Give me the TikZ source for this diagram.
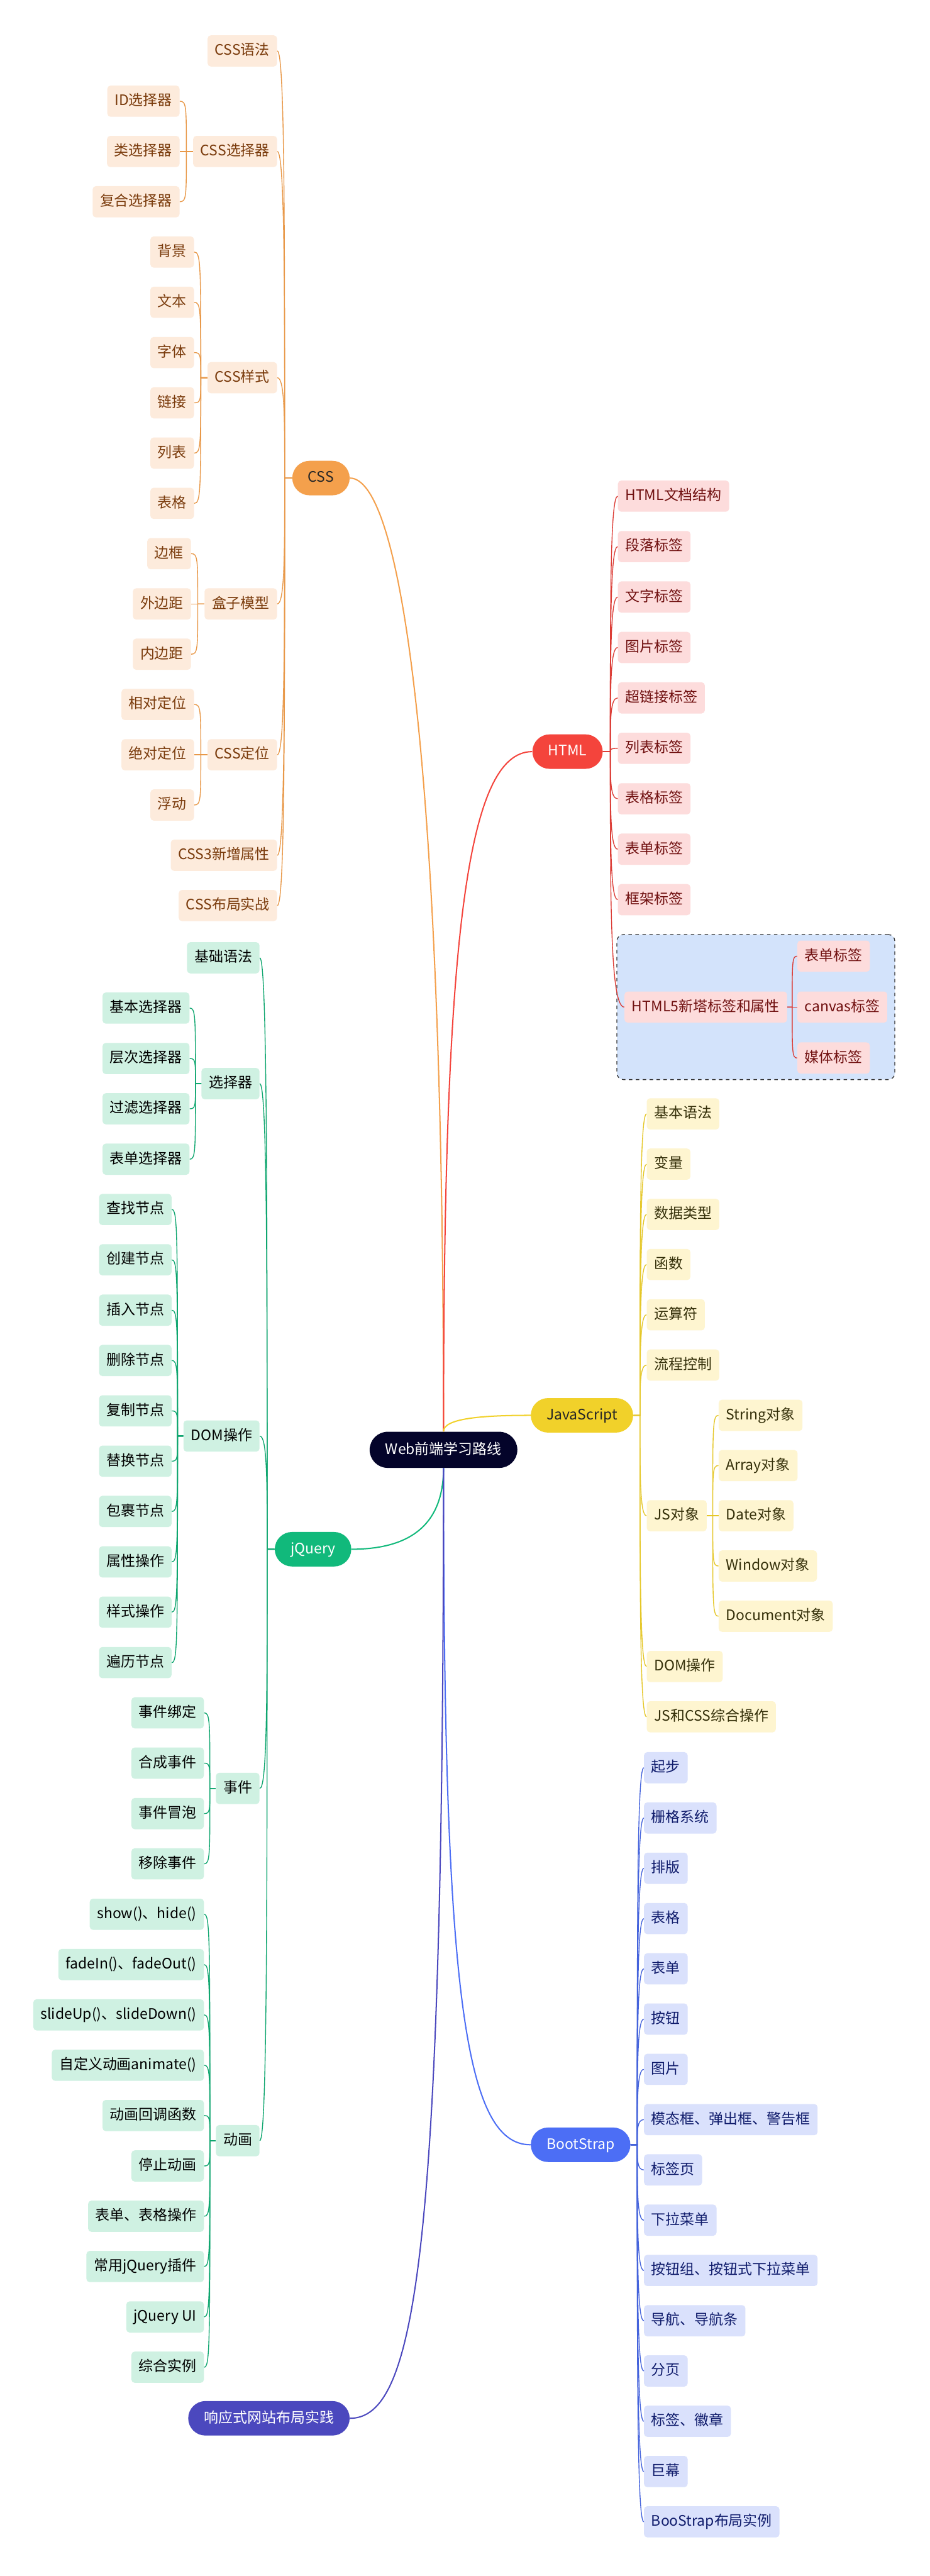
\documentclass[tikz,border=0pt]{standalone}
\usepackage{fontspec}
\setmainfont{Noto Sans CJK SC}
\usepackage{xcolor}
\usepackage{tikz}
\usetikzlibrary{fit,backgrounds}
\definecolor{rootfill}{HTML}{04042A}
\definecolor{cssfill}{HTML}{F4A04C}
\definecolor{csslight}{HTML}{FDEBDC}
\definecolor{csstext}{HTML}{7A3B0C}
\definecolor{htmlfill}{HTML}{F4443C}
\definecolor{htmllight}{HTML}{FDDCDC}
\definecolor{htmltext}{HTML}{701010}
\definecolor{jsfill}{HTML}{F1D12A}
\definecolor{jslight}{HTML}{FEF5D0}
\definecolor{jstext}{HTML}{35300A}
\definecolor{jqfill}{HTML}{11B97B}
\definecolor{jqlight}{HTML}{CFF1E2}
\definecolor{bsfill}{HTML}{4C6EF5}
\definecolor{bslight}{HTML}{DAE1FC}
\definecolor{bstext}{HTML}{101C6C}
\definecolor{rwfill}{HTML}{4B48BE}
\definecolor{groupfill}{HTML}{D3E3FB}

\begin{document}
\begin{tikzpicture}[x=0.5mm,y=-0.5mm,
    every node/.style={font=\fontsize{12.5}{15}\selectfont, text height=3.6mm, text depth=1mm},
    topic/.style={rounded corners=5.25mm, minimum height=10.5mm, inner xsep=4.8mm, inner ysep=0pt},
    leaf/.style={rounded corners=1mm, minimum height=9.5mm, inner xsep=2.25mm, inner ysep=0pt},
    csssub/.style={leaf, fill=csslight, text=csstext},
    htmlsub/.style={leaf, fill=htmllight, text=htmltext},
    jssub/.style={leaf, fill=jslight, text=jstext},
    jqsub/.style={leaf, fill=jqlight, text=black},
    bssub/.style={leaf, fill=bslight, text=bstext},
    cssline/.style={draw=cssfill!95!black, line width=0.75pt},
    htmlline/.style={draw=htmlfill!90!black, line width=0.75pt},
    jsline/.style={draw=jsfill!95!black, line width=0.75pt},
    jqline/.style={draw=jqfill!90!black, line width=0.75pt},
    bsline/.style={draw=bsfill!90!black, line width=0.75pt},
    mainline/.style={line width=1.1pt},
    groupbox/.style={draw=black!80, dashed, line width=0.7pt, rounded corners=2mm, fill=groupfill,
      inner xsep=2.25mm, inner ysep=1.75mm, text height=0pt, text depth=0pt}]
    \useasboundingbox (0,0) rectangle (566,1568);

    % centre and main topics
    \node[topic, fill=rootfill, text=white, minimum height=11mm, rounded corners=5.5mm] (root) at (270,882.5) {Web前端学习路线};
    \node[topic, fill=cssfill, text=black!85, anchor=east] (css) at (213,291) {CSS};
    \node[topic, fill=htmlfill, text=white, anchor=west] (html) at (324,457.5) {HTML};
    \node[topic, fill=jsfill, text=black!85, anchor=west] (js) at (323,861.5) {JavaScript};
    \node[topic, fill=jqfill, text=white, anchor=east] (jq) at (214,943) {jQuery};
    \node[topic, fill=bsfill, text=white, anchor=west] (bs) at (323,1305.5) {BootStrap};
    \node[topic, fill=rwfill, text=white, anchor=east] (rw) at (213,1472) {响应式网站布局实践};

    \draw[mainline, draw=cssfill] (root.north) .. controls +(0,-420) and +(30,0) .. (css.east);
    \draw[mainline, draw=htmlfill] (root.north) .. controls +(0,-300) and +(-40,0) .. (html.west);
    \draw[mainline, draw=jsfill] (root.north) .. controls +(0,-8) and +(-30,0) .. (js.west);
    \draw[mainline, draw=jqfill] (root.south) .. controls +(0,35) and +(35,0) .. (jq.east);
    \draw[mainline, draw=bsfill] (root.south) .. controls +(0,320) and +(-40,0) .. (bs.west);
    \draw[mainline, draw=rwfill] (root.south) .. controls +(0,480) and +(40,0) .. (rw.east);

    % CSS
    \foreach \n/\t/\y in {cs1/CSS语法/31, cs2/CSS选择器/92.2, cs3/CSS样式/229.9, cs4/盒子模型/367.6,
        cs5/CSS定位/459.4, cs6/CSS3新增属性/520.6, cs7/CSS布局实战/551.2}{
      \node[csssub, anchor=east] (\n) at ([xshift=-4.5mm]css.west |- 0,\y) {\t};
      \draw[cssline] (css.west) -- ++(-4.5,0) .. controls +(0,{0.6*(\y-291)}) and +(4.5,0) .. (\n.east);
    }
    \foreach \n/\t/\y in {cs2a/ID选择器/61.6, cs2b/类选择器/92.2, cs2c/复合选择器/122.8}{
      \node[csssub, anchor=east] (\n) at ([xshift=-4mm]cs2.west |- 0,\y) {\t};
      \draw[cssline] (cs2.west) -- ++(-4,0) .. controls +(0,{0.9*(\y-92.2)}) and +(4,0) .. (\n.east);
    }
    \foreach \n/\t/\y in {cs3a/背景/153.4, cs3b/文本/184.0, cs3c/字体/214.6, cs3d/链接/245.2,
        cs3e/列表/275.8, cs3f/表格/306.4}{
      \node[csssub, anchor=east] (\n) at ([xshift=-4mm]cs3.west |- 0,\y) {\t};
      \draw[cssline] (cs3.west) -- ++(-4,0) .. controls +(0,{0.9*(\y-229.9)}) and +(4,0) .. (\n.east);
    }
    \foreach \n/\t/\y in {cs4a/边框/337.0, cs4b/外边距/367.6, cs4c/内边距/398.2}{
      \node[csssub, anchor=east] (\n) at ([xshift=-4mm]cs4.west |- 0,\y) {\t};
      \draw[cssline] (cs4.west) -- ++(-4,0) .. controls +(0,{0.9*(\y-367.6)}) and +(4,0) .. (\n.east);
    }
    \foreach \n/\t/\y in {cs5a/相对定位/428.8, cs5b/绝对定位/459.4, cs5c/浮动/490.0}{
      \node[csssub, anchor=east] (\n) at ([xshift=-4mm]cs5.west |- 0,\y) {\t};
      \draw[cssline] (cs5.west) -- ++(-4,0) .. controls +(0,{0.9*(\y-459.4)}) and +(4,0) .. (\n.east);
    }

    % HTML
    \foreach \n/\t/\y in {hd1/HTML文档结构/302, hd2/段落标签/332.7, hd3/文字标签/363.4, hd4/图片标签/394.1,
        hd5/超链接标签/424.8, hd6/列表标签/455.5, hd7/表格标签/486.2, hd8/表单标签/516.9, hd9/框架标签/547.6}{
      \node[htmlsub, anchor=west] (\n) at ([xshift=4.5mm]html.east |- 0,\y) {\t};
      \draw[htmlline] (html.east) -- ++(4.5,0) .. controls +(0,{0.6*(\y-457.5)}) and +(-4.5,0) .. (\n.west);
    }
    \node[htmlsub, anchor=west] (hd10) at ([xshift=6.5mm]html.east |- 0,613) {HTML5新塔标签和属性};
    \draw[htmlline] (html.east) -- ++(4.5,0) .. controls +(0,93) and +(-8.5,0) .. (hd10.west);
    \foreach \n/\t/\y in {h5a/表单标签/582, h5b/canvas标签/613, h5c/媒体标签/644}{
      \node[htmlsub, anchor=west] (\n) at ([xshift=3mm]hd10.east |- 0,\y) {\t};
      \draw[htmlline] (hd10.east) -- ++(3,0) .. controls +(0,{0.9*(\y-613)}) and +(-3,0) .. (\n.west);
    }

    % JavaScript
    \foreach \n/\t/\y in {js1/基本语法/678, js2/变量/708.6, js3/数据类型/739.2, js4/函数/769.7, js5/运算符/800.3,
        js6/流程控制/830.9, js7/JS对象/922.6, js8/DOM操作/1014.4, js9/JS和CSS综合操作/1045}{
      \node[jssub, anchor=west] (\n) at ([xshift=4mm]js.east |- 0,\y) {\t};
      \draw[jsline] (js.east) -- ++(4,0) .. controls +(0,{0.6*(\y-861.5)}) and +(-4,0) .. (\n.west);
    }
    \foreach \n/\t/\y in {js7a/String对象/861.5, js7b/Array对象/892.1, js7c/Date对象/922.6,
        js7d/Window对象/953.2, js7e/Document对象/983.8}{
      \node[jssub, anchor=west] (\n) at ([xshift=3.5mm]js7.east |- 0,\y) {\t};
      \draw[jsline] (js7.east) -- ++(3.5,0) .. controls +(0,{0.9*(\y-922.6)}) and +(-3.5,0) .. (\n.west);
    }

    % jQuery
    \foreach \n/\t/\y in {jq1/基础语法/583, jq2/选择器/659.6, jq3/DOM操作/874.1, jq4/事件/1088.6, jq5/动画/1303}{
      \node[jqsub, anchor=east] (\n) at ([xshift=-4.5mm]jq.west |- 0,\y) {\t};
      \draw[jqline] (jq.west) -- ++(-4.5,0) .. controls +(0,{0.6*(\y-943)}) and +(4.5,0) .. (\n.east);
    }
    \foreach \n/\t/\y in {jq2a/基本选择器/613.6, jq2b/层次选择器/644.3, jq2c/过滤选择器/674.9, jq2d/表单选择器/705.6}{
      \node[jqsub, anchor=east] (\n) at ([xshift=-3.5mm]jq2.west |- 0,\y) {\t};
      \draw[jqline] (jq2.west) -- ++(-3.5,0) .. controls +(0,{0.9*(\y-659.6)}) and +(3.5,0) .. (\n.east);
    }
    \foreach \n/\t/\y in {jq3a/查找节点/736.2, jq3b/创建节点/766.8, jq3c/插入节点/797.5, jq3d/删除节点/828.1,
        jq3e/复制节点/858.8, jq3f/替换节点/889.4, jq3g/包裹节点/920.0, jq3h/属性操作/950.7,
        jq3i/样式操作/981.3, jq3j/遍历节点/1012.0}{
      \node[jqsub, anchor=east] (\n) at ([xshift=-3.5mm]jq3.west |- 0,\y) {\t};
      \draw[jqline] (jq3.west) -- ++(-3.5,0) .. controls +(0,{0.9*(\y-874.1)}) and +(3.5,0) .. (\n.east);
    }
    \foreach \n/\t/\y in {jq4a/事件绑定/1042.6, jq4b/合成事件/1073.2, jq4c/事件冒泡/1103.9, jq4d/移除事件/1134.5}{
      \node[jqsub, anchor=east] (\n) at ([xshift=-3.5mm]jq4.west |- 0,\y) {\t};
      \draw[jqline] (jq4.west) -- ++(-3.5,0) .. controls +(0,{0.9*(\y-1088.6)}) and +(3.5,0) .. (\n.east);
    }
    \foreach \n/\t/\y in {jq5a/show()、hide()/1165.2, jq5b/fadeIn()、fadeOut()/1195.8,
        jq5c/slideUp()、slideDown()/1226.4, jq5d/自定义动画animate()/1257.1, jq5e/动画回调函数/1287.7,
        jq5f/停止动画/1318.4, jq5g/表单、表格操作/1349.0, jq5h/常用jQuery插件/1379.6,
        jq5i/jQuery UI/1410.3, jq5j/综合实例/1440.9}{
      \node[jqsub, anchor=east] (\n) at ([xshift=-3.5mm]jq5.west |- 0,\y) {\t};
      \draw[jqline] (jq5.west) -- ++(-3.5,0) .. controls +(0,{0.9*(\y-1303)}) and +(3.5,0) .. (\n.east);
    }

    % BootStrap
    \foreach \n/\t/\y in {bs1/起步/1076, bs2/栅格系统/1106.6, bs3/排版/1137.2, bs4/表格/1167.8, bs5/表单/1198.4,
        bs6/按钮/1229, bs7/图片/1259.6, bs8/模态框、弹出框、警告框/1290.2, bs9/标签页/1320.8,
        bs10/下拉菜单/1351.4, bs11/按钮组、按钮式下拉菜单/1382, bs12/导航、导航条/1412.6,
        bs13/分页/1443.2, bs14/标签、徽章/1473.8, bs15/巨幕/1504.4, bs16/BooStrap布局实例/1535}{
      \node[bssub, anchor=west] (\n) at ([xshift=4mm]bs.east |- 0,\y) {\t};
      \draw[bsline] (bs.east) -- ++(4,0) .. controls +(0,{0.6*(\y-1305.5)}) and +(-4,0) .. (\n.west);
    }

    \begin{scope}[on background layer]
      \fill[white] (0,0) rectangle (566,1568);
      \node[groupbox, fit=(hd10)(h5a)(h5b)(h5c)] (h5group) {};
    \end{scope}
  \end{tikzpicture}
\end{document}
